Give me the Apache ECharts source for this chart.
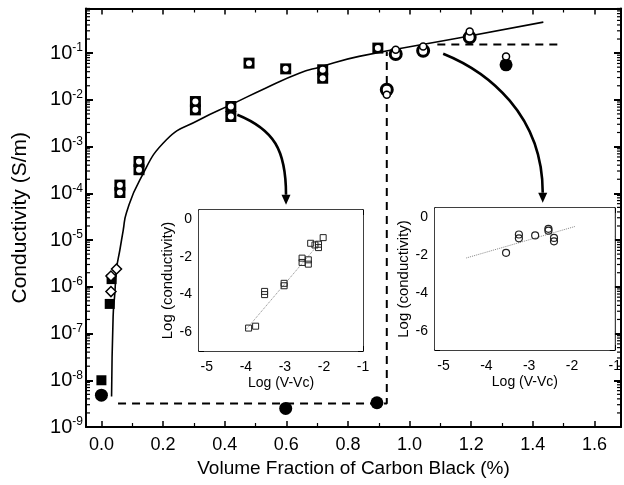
<!DOCTYPE html>
<html><head><meta charset="utf-8">
<script src="https://cdn.jsdelivr.net/npm/echarts@6/dist/echarts.min.js"></script>
<style>html,body{margin:0;padding:0;background:#fff}#c{width:624px;height:485px}</style>
</head><body><div id="c"></div>
<script>
// ---- main panel data: volume fraction (%) vs conductivity (S/m)
const curveVF   = [0.033, 0.038, 0.0436, 0.049, 0.060, 0.071, 0.081, 0.124, 0.211, 0.318, 0.426, 0.534, 0.642, 0.707, 0.836, 1.159, 1.434];
const curveCond = [4.5e-9, 2.3e-7, 7.3e-7, 2.4e-6, 6.2e-6, 1.66e-5, 3.8e-5, 1.9e-4, 1.4e-3, 3.75e-3, 8.2e-3, 0.018, 0.037, 0.050, 0.085, 0.21, 0.46];

const squareVF   = [0.060, 0.060, 0.122, 0.122, 0.305, 0.305, 0.420, 0.420, 0.479, 0.598, 0.718, 0.718, 0.897];
const squareCond = [1.5e-4, 1.04e-4, 4.8e-4, 3.2e-4, 9.2e-3, 6.1e-3, 7.2e-3, 4.4e-3, 0.061, 0.046, 0.044, 0.029, 0.128];

const ringVF   = [0.926, 0.955, 1.044, 1.195];
const ringCond = [0.0164, 0.096, 0.112, 0.217];

const openCircVF   = [0.926, 0.955, 1.044, 1.195, 1.313];
const openCircCond = [0.0129, 0.118, 0.139, 0.29, 0.085];

const filledCircVF   = [0.0, 0.598, 0.894, 1.313];
const filledCircCond = [4.8e-9, 2.5e-9, 3.3e-9, 0.056];

const filledSqVF   = [0.0, 0.027, 0.033];
const filledSqCond = [1.0e-8, 4.3e-7, 1.46e-6];

const diamondVF   = [0.031, 0.031, 0.049];
const diamondCond = [7.9e-7, 1.7e-6, 2.4e-6];

const thresholdVF   = [0.054, 0.926, 0.926];
const thresholdCond = [3.2e-9, 3.2e-9, 0.107];

const plateauVF   = [1.09, 1.48];
const plateauCond = [0.153, 0.153];

// arrows: start, control 1, control 2, end
const arrowVF   = [[0.441, 0.560, 0.599, 0.599], [1.109, 1.254, 1.432, 1.432]];
const arrowCond = [[4.8e-3, 2.3e-3, 8.5e-4, 5.7e-5], [0.097, 0.04, 4.8e-3, 6.3e-5]];

// log-axis minor tick mantissas and decades
const minorMantissas = [2, 3, 4, 5, 6, 7, 8, 9];
const minorDecades = [-9, -8, -7, -6, -5, -4, -3, -2, -1];

// ---- inset 1 (squares)
const inset1X = [-3.93, -3.75, -3.52, -3.52, -3.02, -3.02, -2.56, -2.56, -2.40, -2.40, -2.34, -2.23, -2.14, -2.14, -2.02];
const inset1Y = [-5.78, -5.68, -3.83, -4.0, -3.40, -3.53, -2.06, -2.29, -2.15, -2.38, -1.27, -1.36, -1.32, -1.50, -0.97];
const fit1X = [-3.98, -2.05];
const fit1Y = [-5.82, -1.1];

// ---- inset 2 (circles)
const inset2X = [-3.54, -3.24, -3.24, -2.86, -2.55, -2.55, -2.42, -2.42];
const inset2Y = [-1.87, -0.9, -1.1, -0.95, -0.6, -0.7, -1.08, -1.26];
const fit2X = [-4.47, -1.92];
const fit2Y = [-2.14, -0.47];

// ---- axis settings
const mainXMin = -0.05, mainXMax = 1.686;
const mainYMin = 1e-9, mainYMax = 0.9;
const insetXMin = -5.2, insetXMax = -1;
const insetYMin = -7, insetYMax = 0.5;

const FONT = 'Liberation Sans, Arial, Helvetica, sans-serif';
const pairs = (xs, ys) => xs.map((x, i) => [x, ys[i]]);

const chart = echarts.init(document.getElementById('c'), null, {renderer: 'canvas'});

function mainX(pos, show) {
  return {
    type: 'value', gridIndex: 0, position: pos, min: mainXMin, max: mainXMax, splitNumber: 8,
    axisLine: {show: true, onZero: false, lineStyle: {color: '#000', width: 2}},
    axisTick: {show: true, inside: true, length: 6, lineStyle: {color: '#000', width: 1.5}},
    minorTick: {show: true, splitNumber: 2, length: 4, lineStyle: {color: '#000', width: 1.2}},
    splitLine: {show: false},
    axisLabel: show ? {
      color: '#000', fontSize: 18, fontFamily: FONT, margin: 9,
      formatter: v => Math.abs(v / 0.2 - Math.round(v / 0.2)) < 1e-6 ? (Math.abs(v) < 1e-9 ? '0.0' : v.toFixed(1)) : ''
    } : {show: false},
    name: show ? 'Volume Fraction of Carbon Black (%)' : '',
    nameLocation: 'middle', nameGap: 32,
    nameTextStyle: {color: '#000', fontSize: 19, fontFamily: FONT}
  };
}
function mainY(pos, show) {
  return {
    type: 'log', logBase: 10, gridIndex: 0, position: pos, min: mainYMin, max: mainYMax, splitNumber: 9,
    axisLine: {show: true, onZero: false, lineStyle: {color: '#000', width: 2}},
    axisTick: {show: true, inside: true, length: 7, lineStyle: {color: '#000', width: 2}},
    splitLine: {show: false},
    axisLabel: show ? {
      color: '#000', fontFamily: FONT, margin: 3,
      formatter: v => {
        const e = Math.log10(v);
        if (Math.abs(e - Math.round(e)) > 1e-6) return '';
        return '{a|10}{b|' + Math.round(e) + '}';
      },
      rich: {
        a: {fontSize: 20, fontFamily: FONT, color: '#000', lineHeight: 22},
        b: {fontSize: 12, fontFamily: FONT, color: '#000', verticalAlign: 'top', lineHeight: 12, padding: [0, 0, 10, 0]}
      }
    } : {show: false},
    name: show ? 'Conductivity (S/m)' : '',
    nameLocation: 'middle', nameGap: 55,
    nameTextStyle: {color: '#000', fontSize: 21, fontFamily: FONT}
  };
}
function insetX(grid, pos, show) {
  return {
    type: 'value', gridIndex: grid, position: pos, min: insetXMin, max: insetXMax, splitNumber: 4,
    axisLine: {show: true, onZero: false, lineStyle: {color: '#000', width: 1.5}},
    axisTick: {show: true, inside: true, length: 5, lineStyle: {color: '#000', width: 1}},
    minorTick: {show: true, splitNumber: 2, length: 4, lineStyle: {color: '#000', width: 1}},
    splitLine: {show: false},
    axisLabel: show ? {
      color: '#000', fontSize: 14, fontFamily: FONT, margin: 9,
      formatter: v => Math.abs(v - Math.round(v)) < 1e-6 ? String(Math.round(v)) : ''
    } : {show: false},
    name: show ? 'Log (V-Vc)' : '', nameLocation: 'middle', nameGap: 25,
    nameTextStyle: {color: '#000', fontSize: 14, fontFamily: FONT}
  };
}
function insetY(grid, pos, show) {
  return {
    type: 'value', gridIndex: grid, position: pos, min: insetYMin, max: insetYMax, interval: 1,
    axisLine: {show: true, onZero: false, lineStyle: {color: '#000', width: 1.5}},
    axisTick: {show: true, inside: true, length: 5, lineStyle: {color: '#000', width: 1}},
    splitLine: {show: false},
    axisLabel: show ? {
      color: '#000', fontSize: 14, fontFamily: FONT, margin: 7,
      formatter: v => (Math.round(v) === v && v % 2 === 0 && v <= 0) ? String(v) : ''
    } : {show: false},
    name: show ? 'Log (conductivity)' : '', nameLocation: 'middle', nameGap: 22,
    nameTextStyle: {color: '#000', fontSize: 15, fontFamily: FONT}
  };
}

const arrowData = arrowVF.map((xs, i) => {
  const row = [];
  xs.forEach((x, j) => { row.push(x, arrowCond[i][j]); });
  return row;
});

const minorTickData = [];
minorDecades.forEach(d => minorMantissas.forEach(m => minorTickData.push([mainXMin, m * Math.pow(10, d)])));

const solid = c => ({color: c, opacity: 1});

const option = {
  backgroundColor: '#fff',
  animation: false,
  textStyle: {fontFamily: FONT},
  grid: [
    {left: 86, right: 2, top: 8.5, bottom: 58, containLabel: false},
    {left: 199, top: 210, width: 164, height: 141, show: true, backgroundColor: '#fff', borderWidth: 0, z: 3},
    {left: 435, top: 208, width: 182, height: 142, show: true, backgroundColor: '#fff', borderWidth: 0, z: 3}
  ],
  xAxis: [
    mainX('bottom', true), mainX('top', false),
    insetX(1, 'bottom', true), insetX(1, 'top', false),
    insetX(2, 'bottom', true), insetX(2, 'top', false)
  ],
  yAxis: [
    mainY('left', true), mainY('right', false),
    insetY(1, 'left', true), insetY(1, 'right', false),
    insetY(2, 'left', true), insetY(2, 'right', false)
  ],
  series: [
    // log minor ticks on left and right frame edges
    {type: 'custom', xAxisIndex: 0, yAxisIndex: 0, silent: true, z: 3,
     data: minorTickData, encode: {x: 0, y: 1},
     renderItem: (params, api) => {
       const l = api.coord([mainXMin, api.value(1)]);
       const r = api.coord([mainXMax, api.value(1)]);
       const st = {stroke: '#000', lineWidth: 1.2};
       return {type: 'group', children: [
         {type: 'line', shape: {x1: l[0], y1: l[1], x2: l[0] + 4, y2: l[1]}, style: st},
         {type: 'line', shape: {x1: r[0], y1: r[1], x2: r[0] - 4, y2: r[1]}, style: st}
       ]};
     }},
    {type: 'line', xAxisIndex: 0, yAxisIndex: 0, data: pairs(curveVF, curveCond), smooth: 0.5,
     showSymbol: false, symbol: 'none', lineStyle: {color: '#000', width: 1.6}, z: 2},
    {type: 'line', xAxisIndex: 0, yAxisIndex: 0, data: pairs(thresholdVF, thresholdCond),
     symbol: 'none', lineStyle: {color: '#000', width: 2, type: [8, 6]}, z: 2},
    {type: 'line', xAxisIndex: 0, yAxisIndex: 0, data: pairs(plateauVF, plateauCond),
     symbol: 'none', lineStyle: {color: '#000', width: 2, type: [8, 6]}, z: 2},
    {type: 'custom', xAxisIndex: 0, yAxisIndex: 0, silent: true, z: 4,
     data: arrowData, encode: {x: [0, 2, 4, 6], y: [1, 3, 5, 7]},
     renderItem: (params, api) => {
       const p = [0, 1, 2, 3].map(i => api.coord([api.value(2 * i), api.value(2 * i + 1)]));
       const dx = p[3][0] - p[2][0], dy = p[3][1] - p[2][1];
       const L = Math.hypot(dx, dy) || 1;
       const ux = dx / L, uy = dy / L, hl = 10, hw = 4.5;
       const bx = p[3][0] - ux * hl, by = p[3][1] - uy * hl;
       return {type: 'group', children: [
         {type: 'bezierCurve', shape: {x1: p[0][0], y1: p[0][1], cpx1: p[1][0], cpy1: p[1][1],
           cpx2: p[2][0], cpy2: p[2][1], x2: bx, y2: by},
          style: {stroke: '#000', lineWidth: 2.6, fill: 'none'}},
         {type: 'polygon', shape: {points: [[p[3][0], p[3][1]], [bx - uy * hw, by + ux * hw], [bx + uy * hw, by - ux * hw]]},
          style: {fill: '#000'}}
       ]};
     }},
    {type: 'scatter', xAxisIndex: 0, yAxisIndex: 0, data: pairs(squareVF, squareCond),
     symbol: 'rect', symbolSize: 11, itemStyle: solid('#000'), z: 5},
    {type: 'scatter', xAxisIndex: 0, yAxisIndex: 0, data: pairs(squareVF, squareCond),
     symbol: 'circle', symbolSize: 6, itemStyle: solid('#fff'), z: 6},
    {type: 'scatter', xAxisIndex: 0, yAxisIndex: 0, data: pairs(filledSqVF, filledSqCond),
     symbol: 'rect', symbolSize: 10, itemStyle: solid('#000'), z: 5},
    {type: 'scatter', xAxisIndex: 0, yAxisIndex: 0, data: pairs(diamondVF, diamondCond),
     symbol: 'diamond', symbolSize: 10, itemStyle: {color: '#fff', opacity: 1, borderColor: '#000', borderWidth: 1.5}, z: 6},
    {type: 'scatter', xAxisIndex: 0, yAxisIndex: 0, data: pairs(filledCircVF, filledCircCond),
     symbol: 'circle', symbolSize: 13, itemStyle: solid('#000'), z: 5},
    {type: 'scatter', xAxisIndex: 0, yAxisIndex: 0, data: pairs(ringVF, ringCond),
     symbol: 'circle', symbolSize: 11, itemStyle: {color: '#fff', opacity: 1, borderColor: '#000', borderWidth: 3}, z: 5},
    {type: 'scatter', xAxisIndex: 0, yAxisIndex: 0, data: pairs(openCircVF, openCircCond),
     symbol: 'circle', symbolSize: 7, itemStyle: {color: '#fff', opacity: 1, borderColor: '#000', borderWidth: 1.5}, z: 6},
    // inset 1
    {type: 'line', xAxisIndex: 2, yAxisIndex: 2, data: pairs(fit1X, fit1Y), symbol: 'none',
     lineStyle: {color: '#888', width: 1, type: 'dotted'}, z: 5},
    {type: 'scatter', xAxisIndex: 2, yAxisIndex: 2, data: pairs(inset1X, inset1Y), symbol: 'rect', symbolSize: 6,
     itemStyle: {color: 'rgba(255,255,255,0)', opacity: 1, borderColor: '#222', borderWidth: 1}, z: 6},
    // inset 2
    {type: 'line', xAxisIndex: 4, yAxisIndex: 4, data: pairs(fit2X, fit2Y), symbol: 'none',
     lineStyle: {color: '#888', width: 1, type: 'dotted'}, z: 5},
    {type: 'scatter', xAxisIndex: 4, yAxisIndex: 4, data: pairs(inset2X, inset2Y), symbol: 'circle', symbolSize: 7,
     itemStyle: {color: 'rgba(255,255,255,0)', opacity: 1, borderColor: '#222', borderWidth: 1.2}, z: 6}
  ]
};
chart.setOption(option);
</script>
</body></html>
